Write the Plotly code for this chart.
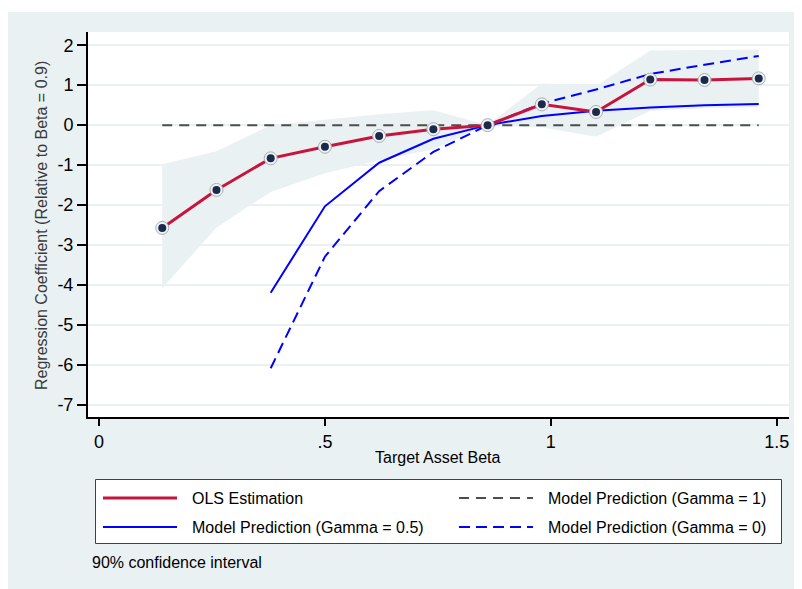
import plotly.graph_objects as go

# ---------------- data ----------------
beta = [0.14, 0.26, 0.38, 0.50, 0.62, 0.74, 0.86, 0.98, 1.10, 1.22, 1.34, 1.46]
ols = [-2.57, -1.62, -0.83, -0.54, -0.27, -0.10, 0.0, 0.52, 0.33, 1.14, 1.13, 1.17]
ci_upper = [-0.98, -0.65, 0.0, 0.14, 0.27, 0.37, 0.0, 1.04, 0.98, 1.87, 1.88, 1.89]
ci_lower = [-4.08, -2.56, -1.67, -1.20, -0.88, -0.60, 0.0, -0.05, -0.29, 0.36, 0.42, 0.45]
gamma_1 = [0.0, 0.0, 0.0, 0.0, 0.0, 0.0, 0.0, 0.0, 0.0, 0.0, 0.0, 0.0]
beta_model = [0.38, 0.50, 0.62, 0.74, 0.86, 0.98, 1.10, 1.22, 1.34, 1.46]
gamma_05 = [-4.19, -2.03, -0.94, -0.34, 0.0, 0.23, 0.36, 0.44, 0.50, 0.53]
gamma_0 = [-6.08, -3.29, -1.65, -0.67, 0.0, 0.54, 0.89, 1.28, 1.51, 1.73]

x_tickvals = [0, 0.5, 1, 1.5]
x_ticktext = ["0", ".5", "1", "1.5"]
y_tickvals = [2, 1, 0, -1, -2, -3, -4, -5, -6, -7]
y_ticktext = ["2", "1", "0", "-1", "-2", "-3", "-4", "-5", "-6", "-7"]

legend_labels = ["OLS Estimation", "Model Prediction (Gamma = 1)",
                 "Model Prediction (Gamma = 0.5)", "Model Prediction (Gamma = 0)"]
note_text = "90% confidence interval"

# ---------------- styling ----------------
OFF = 8  # page body margin; the figure is placed at (8, 8) in the page
W, H = 802 - OFF, 589 - OFF
L, T = 88 - OFF, 32 - OFF
PW, PH = 701, 385
R = W - L - PW
B = H - T - PH
FONT = "Liberation Sans, Arial, Helvetica, sans-serif"
BG = "#EAF1F3"
RED = "#C8143C"
BLUE = "#0000FF"
GRAY = "#4D4D4D"
NAVY = "#1C2A4A"


def px(xp):
    """page x pixel -> paper coordinate"""
    return (xp - OFF - L) / PW


def py(yp):
    """page y pixel -> paper coordinate"""
    return (T + PH - (yp - OFF)) / PH


fig = go.Figure()

# confidence band
fig.add_trace(go.Scatter(x=beta, y=ci_lower, mode="lines", line=dict(width=0),
                         hoverinfo="skip", showlegend=False))
fig.add_trace(go.Scatter(x=beta, y=ci_upper, mode="lines", line=dict(width=0),
                         fill="tonexty", fillcolor="#E9F1F2", hoverinfo="skip",
                         showlegend=False))
# model predictions
fig.add_trace(go.Scatter(x=beta, y=gamma_1, mode="lines",
                         line=dict(color=GRAY, width=2, dash="10px,7px"),
                         showlegend=False))
fig.add_trace(go.Scatter(x=beta_model, y=gamma_05, mode="lines",
                         line=dict(color=BLUE, width=2), showlegend=False))
fig.add_trace(go.Scatter(x=beta_model, y=gamma_0, mode="lines",
                         line=dict(color=BLUE, width=2, dash="11px,6px"),
                         showlegend=False))
# OLS
fig.add_trace(go.Scatter(x=beta, y=ols, mode="lines",
                         line=dict(color=RED, width=3), showlegend=False))
fig.add_trace(go.Scatter(x=beta, y=ols, mode="markers",
                         marker=dict(size=13, color="#EEF2F4",
                                     line=dict(color="#A7B0B8", width=1)),
                         showlegend=False))
fig.add_trace(go.Scatter(x=beta, y=ols, mode="markers",
                         marker=dict(size=8, color=NAVY, line=dict(width=0)),
                         showlegend=False))

shapes = [
    # outer light background
    dict(type="rect", xref="paper", yref="paper", x0=px(8), x1=px(804),
         y0=py(592), y1=py(12), fillcolor=BG, line=dict(width=0), layer="below"),
    # plot area
    dict(type="rect", xref="paper", yref="paper", x0=0, x1=1, y0=0, y1=1,
         fillcolor="white", line=dict(width=0), layer="below"),
    # legend box
    dict(type="rect", xref="paper", yref="paper", x0=px(95.5), x1=px(781.5),
         y0=py(543.5), y1=py(479.5), fillcolor="white",
         line=dict(color="#404040", width=1), layer="above"),
]

legend_styles = [
    (RED, 3, "solid", 0, 498),
    (GRAY, 2, "10px,7px", 1, 498),
    (BLUE, 2, "solid", 0, 527),
    (BLUE, 2, "11px,6px", 1, 527),
]
col_line = [(103, 177), (459, 533)]
col_text = [190, 546]
annotations = []
for (color, width, dash, col, yrow), label in zip(legend_styles, legend_labels):
    x0, x1 = col_line[col]
    shapes.append(dict(type="line", xref="paper", yref="paper", x0=px(x0), x1=px(x1),
                       y0=py(yrow), y1=py(yrow),
                       line=dict(color=color, width=width, dash=dash), layer="above"))
    annotations.append(dict(text=label, xref="paper", yref="paper", x=px(col_text[col]),
                            y=py(yrow), xanchor="left", yanchor="middle", showarrow=False,
                            font=dict(family=FONT, size=16, color="black")))

annotations.append(dict(text=note_text, xref="paper", yref="paper", x=px(90), y=py(562),
                        xanchor="left", yanchor="middle", showarrow=False,
                        font=dict(family=FONT, size=16, color="black")))
annotations.append(dict(text="Target Asset Beta", xref="paper", yref="paper",
                        x=px(438), y=py(458), xanchor="center", yanchor="middle",
                        showarrow=False, font=dict(family=FONT, size=16, color="black")))
annotations.append(dict(text="Regression Coefficient (Relative to Beta = 0.9)",
                        xref="paper", yref="paper", x=px(42), y=py(226),
                        xanchor="center", yanchor="middle", textangle=-90,
                        showarrow=False, font=dict(family=FONT, size=16, color="#3A3A3A")))

fig.update_layout(
    template="none",
    width=W, height=H,
    margin=dict(l=L, r=R, t=T, b=B, pad=0),
    paper_bgcolor="white",
    plot_bgcolor="white",
    showlegend=False,
    font=dict(family=FONT, size=18, color="black"),
    shapes=shapes,
    annotations=annotations,
    xaxis=dict(range=[-0.0243, 1.527], tickvals=x_tickvals, ticktext=x_ticktext,
               showgrid=False, zeroline=False, showline=True, linecolor="black",
               linewidth=2, ticks="outside", ticklen=7, tickwidth=2, tickcolor="black",
               tickfont=dict(family=FONT, size=18, color="black"), automargin=False),
    yaxis=dict(range=[-7.3, 2.33], tickvals=y_tickvals, ticktext=y_ticktext,
               showgrid=True, gridcolor=BG, gridwidth=2, zeroline=False,
               showline=True, linecolor="black", linewidth=2, ticks="outside",
               ticklen=9, tickwidth=2, tickcolor="black",
               tickfont=dict(family=FONT, size=18, color="black"), automargin=False),
)

fig.write_html("out.html")
